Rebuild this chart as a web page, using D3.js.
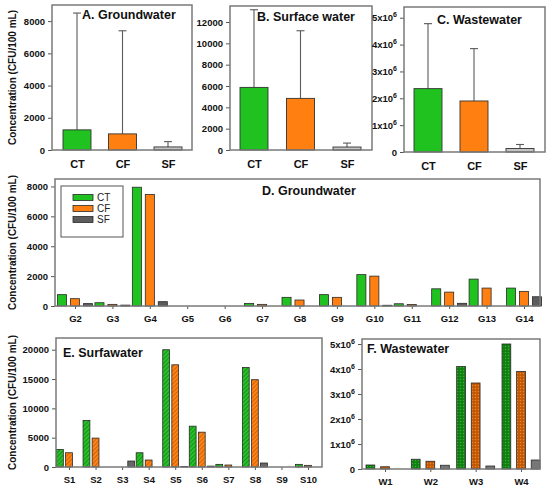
<!DOCTYPE html>
<html>
<head>
<meta charset="utf-8">
<script src="https://cdn.jsdelivr.net/npm/d3@7"></script>
<style>
  body { margin: 0; background: #fff; }
  svg text { font-family: "Liberation Sans", Arial, sans-serif; }
</style>
</head>
<body>
<script>
//DATA
var series = ["CT", "CF", "SF"];

//summary panels: mean and top of error bar
var gwMean = [1250, 1000, 190],
    gwUpper = [8500, 7400, 520];
var swMean = [5870, 4840, 280],
    swUpper = [13150, 11180, 650];
var wwMean = [2.36e6, 1.9e6, 0.13e6],
    wwUpper = [4.78e6, 3.85e6, 0.28e6];

//groundwater sites
var gSites = ["G2", "G3", "G4", "G5", "G6", "G7", "G8", "G9", "G10", "G11", "G12", "G13", "G14"];
var gCT = [760, 220, 7950, 0, 0, 170, 580, 760, 2100, 150, 1150, 1800, 1200];
var gCF = [490, 110, 7470, 0, 0, 110, 400, 580, 2000, 100, 930, 1200, 980];
var gSF = [160, 60, 290, 0, 0, 0, 0, 0, 50, 0, 180, 0, 620];

//surface water sites
var sSites = ["S1", "S2", "S3", "S4", "S5", "S6", "S7", "S8", "S9", "S10"];
var sCT = [3000, 7950, 0, 2430, 20000, 6960, 450, 16980, 0, 450];
var sCF = [2430, 4930, 0, 1190, 17430, 5940, 340, 14890, 0, 280];
var sSF = [0, 0, 1020, 0, 80, 150, 0, 680, 0, 0];

//wastewater sites
var wSites = ["W1", "W2", "W3", "W4"];
var wCT = [0.16e6, 0.39e6, 4.1e6, 5.0e6];
var wCF = [0.09e6, 0.31e6, 3.44e6, 3.9e6];
var wSF = [0, 0.15e6, 0.12e6, 0.36e6];

//tick labels
var ticksA = [0, 2000, 4000, 6000, 8000],
    ticksB = [0, 2000, 4000, 6000, 8000, 10000, 12000],
    ticksC = [0, 1e6, 2e6, 3e6, 4e6, 5e6],
    ticksD = [0, 2000, 4000, 6000, 8000],
    ticksE = [0, 5000, 10000, 15000, 20000],
    ticksF = [0, 1e6, 2e6, 3e6, 4e6, 5e6];

var yLabel = "Concentration (CFU/100 mL)";

var width = 550,
    height = 490;

var svg = d3.select('body').append('svg')
    .attr('width', width)
    .attr('height', height);

//PATTERNS
var defs = svg.append('defs');

var addHatch = function(id, base, line){
  var p = defs.append('pattern')
      .attr('id', id)
      .attr('width', 3).attr('height', 3)
      .attr('patternUnits', 'userSpaceOnUse')
      .attr('patternTransform', 'rotate(45)');
  p.append('rect').attr('width', 3).attr('height', 3).attr('fill', base);
  p.append('line').attr('x1', 0.5).attr('y1', 0).attr('x2', 0.5).attr('y2', 3)
      .attr('stroke', line).attr('stroke-width', 1);
};
var addDots = function(id, base, dot){
  var p = defs.append('pattern')
      .attr('id', id)
      .attr('width', 3).attr('height', 3)
      .attr('patternUnits', 'userSpaceOnUse');
  p.append('rect').attr('width', 3).attr('height', 3).attr('fill', base);
  p.append('circle').attr('cx', 1.5).attr('cy', 1.5).attr('r', 0.7).attr('fill', dot);
};
addHatch('hatchCT', '#27c227', '#169216');
addHatch('hatchCF', '#ff8214', '#d0630a');
addDots('dotCT', '#0f7f0f', '#3bb03b');
addDots('dotCF', '#c45800', '#e88a3a');

var fillsTop = ['#1fc21f', '#ff8010', '#c4c4c4'],
    fillsD = ['#1fc21f', '#ff8010', '#5c5c5c'],
    fillsE = ['url(#hatchCT)', 'url(#hatchCF)', '#666666'],
    fillsF = ['url(#dotCT)', 'url(#dotCF)', '#777777'];

//SHARED PIECES
var sciFormat = function(d){ return d === 0 ? '0' : (d / 1e6) + 'x10'; };

var drawYAxis = function(box, y, ticks, sci){
  var ax = svg.append('g')
      .attr('transform', 'translate(' + box.x0 + ',0)')
      .call(d3.axisLeft(y).tickValues(ticks).tickSize(4).tickPadding(3)
          .tickFormat(sci ? sciFormat : d3.format('d')));
  ax.select('.domain').remove();
  ax.selectAll('line').attr('stroke', '#555');
  ax.selectAll('text')
      .attr('font-size', 9.5)
      .attr('font-weight', 'bold')
      .attr('fill', '#111');
  if (sci){
    ax.selectAll('text').filter(function(d){ return d > 0; })
      .append('tspan')
        .attr('dy', -4)
        .attr('font-size', 7)
        .text('6');
  }
};

var drawXAxis = function(box, x, size, tickLen, pad){
  var ax = svg.append('g')
      .attr('transform', 'translate(0,' + box.y1 + ')')
      .call(d3.axisBottom(x).tickSize(tickLen).tickPadding(pad));
  ax.select('.domain').remove();
  ax.selectAll('line').attr('stroke', '#555');
  ax.selectAll('text')
      .attr('font-size', size)
      .attr('font-weight', 'bold')
      .attr('fill', '#111');
};

var drawFrame = function(box){
  svg.append('rect')
      .attr('x', box.x0).attr('y', box.y0)
      .attr('width', box.x1 - box.x0)
      .attr('height', box.y1 - box.y0)
      .attr('fill', 'none')
      .attr('stroke', '#7a7a7a')
      .attr('stroke-width', 1.5);
};

var drawTitle = function(text, x, y){
  svg.append('text')
      .attr('x', x).attr('y', y)
      .attr('font-size', 12.5)
      .attr('font-weight', 'bold')
      .attr('fill', '#111')
      .text(text);
};

var drawYLabel = function(box){
  svg.append('text')
      .attr('transform', 'translate(12,' + ((box.y0 + box.y1) / 2) + ') rotate(-90)')
      .attr('text-anchor', 'middle')
      .attr('dy', '0.35em')
      .attr('font-size', 10)
      .attr('font-weight', 'bold')
      .attr('fill', '#111')
      .text(yLabel);
};

//SUMMARY PANELS (A, B, C)
var drawSummary = function(p){
  var y = d3.scaleLinear().domain(p.yMax ? [0, p.yMax] : [0, 1]).range([p.box.y1, p.box.y0]);
  var x = d3.scalePoint().domain(series).range(p.xRange);
  var rows = series.map(function(s, i){ return {key: s, mean: p.mean[i], upper: p.upper[i], i: i}; });

  var errs = svg.append('g').selectAll('g').data(rows).enter().append('g')
      .attr('stroke', '#5a5a5a').attr('stroke-width', 1.1);
  errs.append('line')
      .attr('x1', function(d){ return x(d.key); })
      .attr('x2', function(d){ return x(d.key); })
      .attr('y1', function(d){ return y(d.mean); })
      .attr('y2', function(d){ return y(d.upper); });
  errs.append('line')
      .attr('x1', function(d){ return x(d.key) - 4; })
      .attr('x2', function(d){ return x(d.key) + 4; })
      .attr('y1', function(d){ return y(d.upper); })
      .attr('y2', function(d){ return y(d.upper); });

  svg.append('g').selectAll('rect').data(rows).enter().append('rect')
      .attr('x', function(d){ return x(d.key) - 14; })
      .attr('width', 28)
      .attr('y', function(d){ return y(d.mean); })
      .attr('height', function(d){ return y(0) - y(d.mean); })
      .attr('fill', function(d){ return fillsTop[d.i]; })
      .attr('stroke', '#333').attr('stroke-width', 0.9);

  drawYAxis(p.box, y, p.ticks, p.sci);
  drawXAxis(p.box, x, 11, 0, 10);
  drawFrame(p.box);
  drawTitle(p.title, p.titleX, p.titleY);
};

//SITE PANELS (D, E, F)
var drawSites = function(p){
  var y = d3.scaleLinear().domain([0, p.yMax]).range([p.box.y1, p.box.y0]);
  var x = d3.scalePoint().domain(p.sites).range(p.xRange);
  var x1 = d3.scaleBand().domain(series)
      .range([-p.groupW / 2, p.groupW / 2]).paddingInner(p.pad);

  var rows = [];
  p.sites.forEach(function(site, j){
    p.values.forEach(function(vals, i){
      if (vals[j] > 0) rows.push({site: site, key: series[i], v: vals[j], i: i});
    });
  });

  svg.append('g').selectAll('rect').data(rows).enter().append('rect')
      .attr('x', function(d){ return x(d.site) + x1(d.key); })
      .attr('width', x1.bandwidth())
      .attr('y', function(d){ return y(d.v); })
      .attr('height', function(d){ return y(0) - y(d.v); })
      .attr('fill', function(d){ return p.fills[d.i]; })
      .attr('stroke', '#2a2a2a').attr('stroke-width', 0.8);

  drawYAxis(p.box, y, p.ticks, p.sci);
  drawXAxis(p.box, x, 9.5, 3, 6);
  drawFrame(p.box);
  drawTitle(p.title, p.titleX, p.titleY);
};

drawSummary({box: {x0: 52, x1: 192, y0: 5, y1: 150}, yMax: 9000, ticks: ticksA,
  xRange: [77, 168], mean: gwMean, upper: gwUpper,
  title: "A. Groundwater", titleX: 82, titleY: 19});
drawSummary({box: {x0: 230, x1: 372, y0: 6, y1: 150}, yMax: 13500, ticks: ticksB,
  xRange: [254, 347], mean: swMean, upper: swUpper,
  title: "B. Surface water", titleX: 257, titleY: 21});
drawSummary({box: {x0: 404, x1: 545, y0: 7, y1: 152}, yMax: 5.4e6, ticks: ticksC, sci: true,
  xRange: [428, 520], mean: wwMean, upper: wwUpper,
  title: "C. Wastewater", titleX: 437, titleY: 24});

drawSites({box: {x0: 55, x1: 540, y0: 179, y1: 306}, yMax: 8500, ticks: ticksD,
  sites: gSites, xRange: [75, 524], values: [gCT, gCF, gSF], fills: fillsD,
  groupW: 35, pad: 0.3,
  title: "D. Groundwater", titleX: 262, titleY: 195});
drawSites({box: {x0: 56, x1: 322, y0: 338, y1: 467}, yMax: 22000, ticks: ticksE,
  sites: sSites, xRange: [69, 308], values: [sCT, sCF, sSF], fills: fillsE,
  groupW: 25, pad: 0.25,
  title: "E. Surfawater", titleX: 63, titleY: 357});
drawSites({box: {x0: 362, x1: 540, y0: 339, y1: 469}, yMax: 5.2e6, ticks: ticksF, sci: true,
  sites: wSites, xRange: [385, 521], values: [wCT, wCF, wSF], fills: fillsF,
  groupW: 38, pad: 0.4,
  title: "F. Wastewater", titleX: 367, titleY: 353});

//axis titles
drawYLabel({y0: 5, y1: 150});
drawYLabel({y0: 179, y1: 306});
drawYLabel({y0: 338, y1: 467});

//LEGEND (panel D)
var legend = svg.append('g');
legend.append('rect')
    .attr('x', 61).attr('y', 186)
    .attr('width', 62).attr('height', 51)
    .attr('fill', '#fff')
    .attr('stroke', '#555').attr('stroke-width', 1);
var items = legend.selectAll('g.item').data(series).enter().append('g')
    .attr('class', 'item')
    .attr('transform', function(d, i){ return 'translate(73,' + (197.5 + i * 11) + ')'; });
items.append('rect')
    .attr('x', 0).attr('y', -3)
    .attr('width', 20).attr('height', 6)
    .attr('fill', function(d, i){ return fillsD[i]; })
    .attr('stroke', '#2a2a2a').attr('stroke-width', 0.8);
items.append('text')
    .attr('x', 24).attr('dy', '0.35em')
    .attr('font-size', 10)
    .attr('fill', '#222')
    .text(function(d){ return d; });
</script>
</body>
</html>
